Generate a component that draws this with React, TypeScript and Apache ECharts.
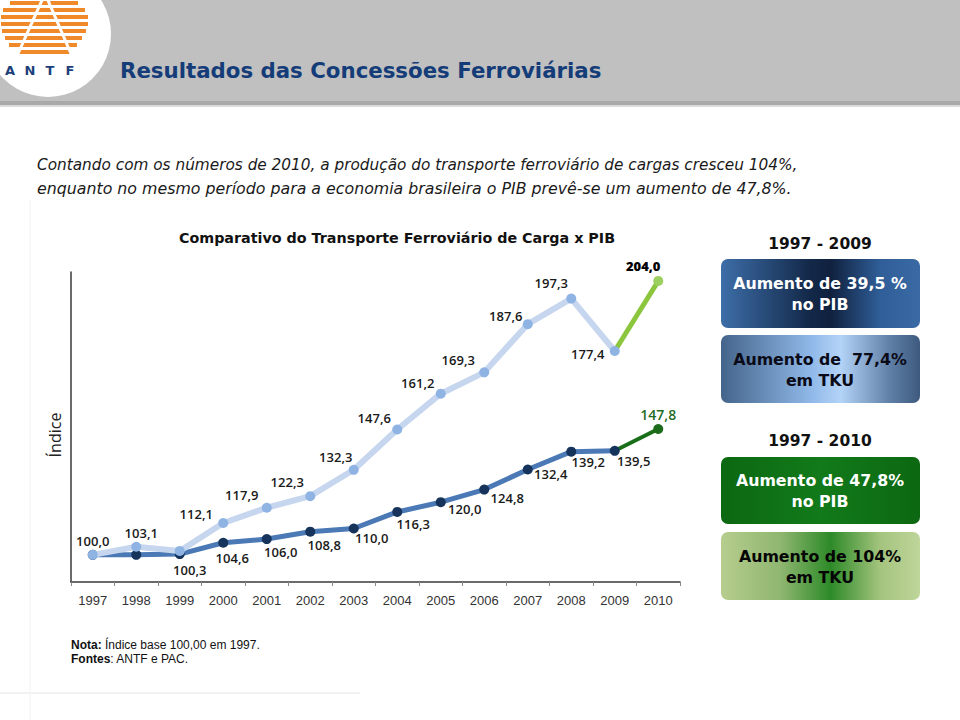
import React, { useEffect, useRef } from "react";
import * as echarts from "echarts";

const years = ["1997", "1998", "1999", "2000", "2001", "2002", "2003", "2004", "2005", "2006", "2007", "2008", "2009", "2010"];
const tku = [100.0, 103.1, 101.5, 112.1, 117.9, 122.3, 132.3, 147.6, 161.2, 169.3, 187.6, 197.3, 177.4, 204.0];
const pib = [100.0, 100.0, 100.3, 104.6, 106.0, 108.8, 110.0, 116.3, 120.0, 124.8, 132.4, 139.2, 139.5, 147.8];
const tkuLabelShown = [true, true, false, true, true, true, true, true, true, true, true, true, true, true];
const pibLabelShown = [false, false, true, true, true, true, true, true, true, true, true, true, true, true];

// label placement (layout only)
const tkuOffsets: number[][] = [[0, -14], [5, -14], [0, 0], [-27, -9], [-25, -13], [-23, -14], [-18, -13], [-23, -12], [-23, -11], [-26, -12], [-22, -8], [-20, -16], [-27, 3], [-15, -15]];
const pibOffsets: number[][] = [[0, 0], [0, 0], [10, 16], [9, 15], [14, 13], [14, 13], [18, 9], [16, 12], [24, 7], [23, 8], [23, 4], [17, 10], [19, 10], [0, -14]];

const headerTitle = "Resultados das Concessões Ferroviárias";
const introLines = [
  "Contando com os números de 2010, a produção do transporte ferroviário de cargas cresceu 104%,",
  "enquanto no mesmo período para a economia brasileira o PIB prevê-se um aumento de 47,8%.",
];
const chartTitle = "Comparativo do Transporte Ferroviário de Carga x PIB";
const yName = "Índice";
const period1 = "1997 - 2009";
const period2 = "1997 - 2010";
const box1 = ["Aumento de 39,5 %", "no PIB"];
const box2 = ["Aumento de  77,4%", "em TKU"];
const box3 = ["Aumento de 47,8%", "no PIB"];
const box4 = ["Aumento de 104%", "em TKU"];

const fmt = (v: number) => v.toFixed(1).replace(".", ",");
const LAST = years.length - 1;

export default function App() {
  const ref = useRef<HTMLDivElement>(null);
  useEffect(() => {
    if (!ref.current) return;
    const chart = echarts.init(ref.current, null, { renderer: "svg" });
    const labelFont = { fontFamily: "Open Sans", fontWeight: 600, fontSize: 13, color: "#1a1a1a" };

    const mkData = (arr: number[], shown: boolean[], offs: number[][], from: number, to: number, extra?: (i: number) => any) =>
      arr.map((v, i) => {
        if (i < from || i > to) return null;
        const item: any = {
          value: v,
          label: shown[i] ? { show: true, position: "inside", offset: offs[i] } : { show: false },
        };
        if (extra) Object.assign(item, extra(i));
        return item;
      });

    const grad = (stops: [number, string][]) =>
      new echarts.graphic.LinearGradient(0, 0, 1, 0, stops.map(([offset, color]) => ({ offset, color })));

    const txt = (text: string, x: number, y: number, size: number, color: string, weight: any = "bold", family = "DejaVu Sans", extra: any = {}, el: any = {}) => ({
      type: "text",
      ...el,
      style: {
        text, x, y, fontSize: size, fontFamily: family, fontWeight: weight, fill: color,
        align: "center", verticalAlign: "middle", textAlign: "center", textVerticalAlign: "middle", ...extra,
      },
    });

    const rows = [
      [1, 10, 78], [8, 3, 85], [15, 1, 88], [22, 1, 88], [29, 2, 86], [36, 5, 82], [43, 9, 77], [50, 18, 70],
    ];
    const logo: any[] = [
      { type: "circle", shape: { cx: 48, cy: 34, r: 63 }, style: { fill: "#ffffff" } },
      ...rows.map(([y, x1, x2]) => ({ type: "rect", shape: { x: x1, y, width: x2 - x1, height: 4 }, style: { fill: "#f0892a" } })),
      { type: "polyline", shape: { points: [[43, -2], [17, 56]] }, style: { stroke: "#ffffff", lineWidth: 3, fill: null } },
      { type: "polyline", shape: { points: [[47, -2], [72, 56]] }, style: { stroke: "#ffffff", lineWidth: 3, fill: null } },
      txt("A", 10, 70, 13, "#1c3f7a", "bold", "DejaVu Sans"),
      txt("N", 30, 70, 13, "#1c3f7a", "bold", "DejaVu Sans"),
      txt("T", 50, 70, 13, "#1c3f7a", "bold", "DejaVu Sans"),
      txt("F", 70, 70, 13, "#1c3f7a", "bold", "DejaVu Sans"),
    ];

    const box = (y: number, h: number, fill: any, lines: string[], color: string) => [
      { type: "rect", shape: { x: 721, y, width: 199, height: h, r: 7 }, style: { fill } },
      txt(lines[0], 820, y + h / 2 - 10, 15.8, color),
      txt(lines[1], 820, y + h / 2 + 11, 15.8, color),
    ];

    const graphics: any[] = [
      { type: "rect", shape: { x: 0, y: 0, width: 960, height: 101 }, style: { fill: "#c0c0c0" } },
      { type: "rect", shape: { x: 0, y: 101, width: 960, height: 4 }, style: { fill: "#a9a9a9" } },
      { type: "rect", shape: { x: 0, y: 105, width: 960, height: 2 }, style: { fill: "#dcdcdc" } },
      { type: "line", shape: { x1: 30, y1: 200, x2: 30, y2: 720 }, style: { stroke: "#f2f2f2", lineWidth: 1 } },
      { type: "line", shape: { x1: 0, y1: 693, x2: 360, y2: 693 }, style: { stroke: "#f2f2f2", lineWidth: 2 } },
      ...logo,
      txt(headerTitle, 120, 70, 21.3, "#143c78", "bold", "DejaVu Sans", { align: "left", textAlign: "left" }),
      txt(introLines[0], 37, 165, 15.3, "#1a1a1a", "normal", "DejaVu Sans", { align: "left", textAlign: "left", fontStyle: "italic" }),
      txt(introLines[1], 37, 188, 15.8, "#1a1a1a", "normal", "DejaVu Sans", { align: "left", textAlign: "left", fontStyle: "italic" }),
      txt(chartTitle, 397, 238, 14.3, "#111111"),
      txt(yName, 0, 0, 16, "#222222", "normal", "Open Sans", {}, { rotation: Math.PI / 2, x: 55, y: 435 }),
      txt(period1, 820, 244, 15.5, "#111111"),
      ...box(259, 69, grad([[0, "#3d6ea8"], [0.45, "#132848"], [0.55, "#10213e"], [0.8, "#2f5e98"], [1, "#3a6aa4"]]), box1, "#ffffff"),
      ...box(335, 68, grad([[0, "#44648a"], [0.45, "#8fb8e8"], [0.6, "#b3d3f7"], [0.85, "#5f7fa6"], [1, "#3e5a7e"]]), box2, "#0b0b18"),
      txt(period2, 820, 441, 15.5, "#111111"),
      ...box(457, 67, grad([[0, "#0c6812"], [0.5, "#127a1a"], [1, "#0c6812"]]), box3, "#ffffff"),
      ...box(532, 68, grad([[0, "#b6cd8e"], [0.3, "#8fb670"], [0.55, "#2d8a28"], [0.8, "#a4c47e"], [1, "#bfd59a"]]), box4, "#050505"),
      {
        type: "text",
        style: {
          text: "{b|Nota:} Índice base 100,00 em 1997.\n{b|Fontes}: ANTF e PAC.",
          x: 71, y: 638, fontSize: 12, fontFamily: "Liberation Sans", fill: "#111111", lineHeight: 14,
          rich: { b: { fontWeight: "bold", fontSize: 12, fontFamily: "Liberation Sans", fill: "#111111", lineHeight: 14 } },
        },
      },
    ];

    chart.setOption({
      animation: false,
      backgroundColor: "#ffffff",
      grid: { left: 71, right: 280, top: 272, bottom: 138, containLabel: false },
      xAxis: {
        type: "category",
        data: years,
        boundaryGap: true,
        axisLine: { lineStyle: { color: "#3a3a3a", width: 1.5 } },
        axisTick: { show: true, length: 4, lineStyle: { color: "#8a8a8a" } },
        axisLabel: { fontFamily: "Liberation Sans", fontSize: 13, color: "#333333", margin: 12 },
      },
      yAxis: {
        type: "value",
        min: 89.7,
        max: 207.4,
        axisLine: { show: true, lineStyle: { color: "#3a3a3a", width: 1.5 } },
        axisTick: { show: false },
        axisLabel: { show: false },
        splitLine: { show: false },
      },
      series: [
        {
          name: "PIB",
          type: "line",
          data: mkData(pib, pibLabelShown, pibOffsets, 0, LAST - 1),
          symbol: "circle",
          symbolSize: 10,
          lineStyle: { color: "#4a79b5", width: 5 },
          itemStyle: { color: "#15335b" },
          label: { ...labelFont, formatter: (p: any) => fmt(p.value) },
          z: 2,
        },
        {
          name: "PIB 2010",
          type: "line",
          data: mkData(pib, pibLabelShown, pibOffsets, LAST - 1, LAST, (i) => (i < LAST ? { symbol: "none", label: { show: false } } : {})),
          symbol: "circle",
          symbolSize: 10,
          lineStyle: { color: "#1a6e1a", width: 4 },
          itemStyle: { color: "#1b6b1b" },
          label: { ...labelFont, color: "#1f6b1f", fontSize: 14, formatter: (p: any) => fmt(p.value) },
          z: 2,
        },
        {
          name: "TKU",
          type: "line",
          data: mkData(tku, tkuLabelShown, tkuOffsets, 0, LAST - 1),
          symbol: "circle",
          symbolSize: 10,
          lineStyle: { color: "#c6d6ee", width: 6 },
          itemStyle: { color: "#8fb4e3" },
          label: { ...labelFont, formatter: (p: any) => fmt(p.value) },
          z: 3,
        },
        {
          name: "TKU 2010",
          type: "line",
          data: mkData(tku, tkuLabelShown, tkuOffsets, LAST - 1, LAST, (i) => (i < LAST ? { symbol: "none", label: { show: false } } : {})),
          symbol: "circle",
          symbolSize: 10,
          lineStyle: { color: "#8cc63f", width: 5 },
          itemStyle: { color: "#9ccf5f" },
          label: { ...labelFont, fontWeight: 800, color: "#000000", formatter: (p: any) => fmt(p.value) },
          z: 3,
        },
      ],
      graphic: { elements: graphics },
    });
    return () => chart.dispose();
  }, []);
  return <div ref={ref} style={{ position: "absolute", left: 0, top: 0, width: 960, height: 720 }} />;
}
